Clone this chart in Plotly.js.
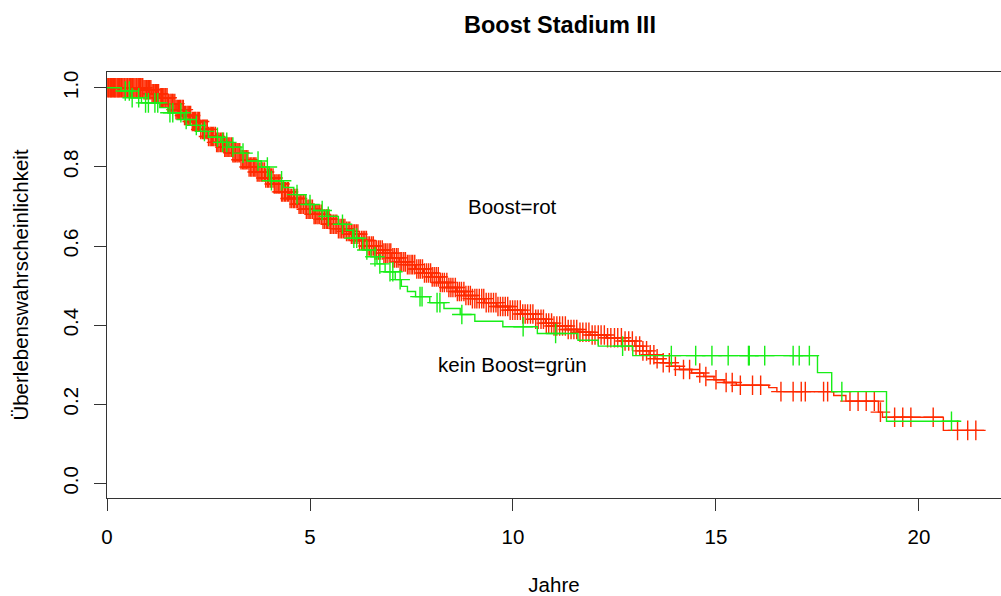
<!DOCTYPE html>
<html>
<head>
<meta charset="utf-8">
<script src="https://cdn.plot.ly/plotly-3.0.1.min.js"></script>
<style>html,body{margin:0;padding:0;background:#fff;}#chart{width:1001px;height:596px;}</style>
</head>
<body>
<div id="chart"></div>
<script>
// Kaplan-Meier steps: "Boost" (red)
const redTimes = [0, 0.9, 1.1, 1.3, 1.5, 1.7, 1.9, 2.1, 2.3, 2.5, 2.7, 2.9, 3.1, 3.3, 3.5, 3.7, 3.9, 4.1, 4.3, 4.5, 4.7, 4.9, 5.1, 5.3, 5.5, 5.7, 5.9, 6.0, 6.2, 6.4, 6.6, 6.8, 7.0, 7.2, 7.4, 7.6, 7.8, 8.0, 8.2, 8.4, 8.6, 8.8, 9.0, 9.3, 9.6, 9.9, 10.2, 10.5, 10.8, 11.0, 11.3, 11.6, 11.9, 12.3, 12.7, 13.0, 13.2, 13.35, 13.5, 13.7, 13.9, 14.1, 14.4, 14.7, 14.95, 15.2, 15.5, 16.3, 16.5, 17.9, 18.2, 19.0, 19.1, 20.6];
const redSurv  = [1.0, 0.995, 0.985, 0.975, 0.96, 0.945, 0.93, 0.915, 0.895, 0.877, 0.862, 0.85, 0.836, 0.818, 0.8, 0.787, 0.772, 0.757, 0.737, 0.72, 0.706, 0.693, 0.68, 0.668, 0.655, 0.644, 0.637, 0.63, 0.614, 0.6, 0.59, 0.582, 0.57, 0.56, 0.553, 0.542, 0.532, 0.522, 0.508, 0.495, 0.485, 0.475, 0.467, 0.457, 0.447, 0.438, 0.428, 0.415, 0.405, 0.398, 0.389, 0.382, 0.375, 0.368, 0.36, 0.347, 0.335, 0.325, 0.315, 0.305, 0.296, 0.288, 0.279, 0.27, 0.262, 0.255, 0.248, 0.242, 0.232, 0.222, 0.208, 0.18, 0.167, 0.134];
const redEnd = 21.6;
const redCensor = [0.02, 0.04, 0.07, 0.09, 0.11, 0.13, 0.16, 0.18, 0.2, 0.22, 0.25, 0.27, 0.29, 0.31, 0.34, 0.36, 0.39, 0.42, 0.44, 0.47, 0.5, 0.52, 0.56, 0.58, 0.61, 0.63, 0.66, 0.69, 0.72, 0.74, 0.77, 0.8, 0.83, 0.86, 0.88, 0.91, 0.94, 0.97, 0.99,
  1.02, 1.05, 1.08, 1.11, 1.14, 1.16, 1.19, 1.22, 1.25, 1.27, 1.31, 1.34, 1.37, 1.4, 1.43, 1.45, 1.48, 1.51, 1.55, 1.58, 1.61, 1.63, 1.67, 1.7, 1.73, 1.76, 1.79, 1.81, 1.85, 1.88, 1.91, 1.93, 1.97,
  2.0, 2.03, 2.06, 2.1, 2.13, 2.16, 2.18, 2.22, 2.25, 2.28, 2.31, 2.35, 2.38, 2.41, 2.44, 2.47, 2.5, 2.54, 2.57, 2.6, 2.63, 2.67, 2.7, 2.73, 2.76, 2.8, 2.83, 2.87, 2.9, 2.93, 2.96,
  3.0, 3.03, 3.07, 3.1, 3.13, 3.16, 3.2, 3.23, 3.27, 3.3, 3.34, 3.37, 3.4, 3.43, 3.47, 3.5, 3.54, 3.57, 3.61, 3.64, 3.67, 3.7, 3.74, 3.77, 3.81, 3.84, 3.88, 3.91, 3.95, 3.98,
  4.02, 4.05, 4.09, 4.12, 4.16, 4.19, 4.23, 4.26, 4.3, 4.33, 4.37, 4.4, 4.44, 4.47, 4.51, 4.55, 4.59, 4.62, 4.66, 4.69, 4.73, 4.76, 4.8, 4.84, 4.88, 4.91, 4.95, 4.98,
  5.02, 5.06, 5.1, 5.13, 5.17, 5.2, 5.24, 5.28, 5.32, 5.36, 5.4, 5.43, 5.47, 5.5, 5.54, 5.58, 5.62, 5.66, 5.7, 5.74, 5.78, 5.82, 5.86, 5.9, 5.94, 5.98,
  6.02, 6.06, 6.1, 6.14, 6.18, 6.22, 6.27, 6.31, 6.35, 6.39, 6.43, 6.47, 6.52, 6.56, 6.6, 6.64, 6.69, 6.73, 6.78, 6.82, 6.86, 6.9, 6.95, 6.99,
  7.04, 7.08, 7.13, 7.17, 7.22, 7.26, 7.31, 7.35, 7.4, 7.44, 7.49, 7.53, 7.58, 7.63, 7.68, 7.72, 7.77, 7.82, 7.87, 7.92, 7.97,
  8.01, 8.06, 8.11, 8.16, 8.21, 8.26, 8.31, 8.37, 8.42, 8.47, 8.52, 8.58, 8.63, 8.68, 8.73, 8.79, 8.84, 8.9, 8.95,
  9.0, 9.06, 9.11, 9.17, 9.23, 9.28, 9.34, 9.4, 9.46, 9.52, 9.58, 9.63, 9.69, 9.75, 9.81, 9.87, 9.93, 9.99,
  10.05, 10.11, 10.18, 10.24, 10.3, 10.36, 10.43, 10.49, 10.56, 10.62, 10.69, 10.75, 10.82, 10.88, 10.95,
  11.01, 11.08, 11.15, 11.22, 11.29, 11.36, 11.43, 11.5, 11.57, 11.65, 11.72, 11.8, 11.87, 11.95,
  12.02, 12.1, 12.17, 12.25, 12.33, 12.41, 12.5, 12.58, 12.67, 12.76, 12.85, 12.94, 13.03, 13.12, 13.2, 13.29, 13.38, 13.47,
  13.55, 13.7, 13.85, 14.0, 14.2, 14.35, 14.6, 14.75, 15.0, 15.25, 15.4, 15.6, 15.9, 16.1, 16.6, 16.9, 17.1, 17.2, 17.65, 17.75,
  18.3, 18.5, 18.7, 18.9, 19.05, 19.4, 19.6, 19.8, 20.35, 20.95, 21.2, 21.4];

// "kein Boost" (green)
const greenTimes = [0, 0.35, 0.6, 0.85, 1.3, 1.5, 1.9, 2.05, 2.3, 2.5, 2.8, 3.0, 3.3, 3.45, 3.8, 4.0, 4.35, 4.6, 4.9, 5.1, 5.4, 5.7, 5.9, 6.05, 6.3, 6.5, 6.65, 6.85, 7.1, 7.25, 7.4, 7.6, 7.95, 8.3, 8.7, 9.06, 9.75, 10.6, 11.6, 12.1, 12.95, 17.5, 17.85, 19.2];
const greenSurv  = [1.0, 0.992, 0.975, 0.962, 0.95, 0.937, 0.92, 0.905, 0.89, 0.875, 0.862, 0.85, 0.835, 0.815, 0.8, 0.765, 0.748, 0.73, 0.705, 0.69, 0.675, 0.655, 0.64, 0.62, 0.59, 0.573, 0.555, 0.535, 0.515, 0.498, 0.485, 0.472, 0.457, 0.442, 0.427, 0.41, 0.396, 0.379, 0.362, 0.347, 0.323, 0.28, 0.232, 0.157];
const greenEnd = 21.0;
const greenCensor = [0.45, 0.55, 0.62, 0.78, 0.95, 1.02, 1.18, 1.25, 1.55, 1.62, 1.82, 1.95, 2.2, 2.4, 2.72, 2.85, 2.95, 3.1, 3.35, 3.72, 3.95, 4.05, 4.3, 4.68, 5.0, 5.3, 5.45, 5.8, 6.08, 6.15, 6.4, 6.6, 6.72, 6.97, 7.04, 7.22, 7.71, 7.76, 8.13, 8.2, 8.74, 10.25, 11.05, 12.7, 13.9, 14.5, 14.9, 15.3, 15.8, 15.82, 16.2, 16.9, 17.05, 17.3, 18.1, 20.8];

const xTicks = [0, 5, 10, 15, 20];
const yTicks = [0, 0.2, 0.4, 0.6, 0.8, 1.0];
const yTickText = ["0.0", "0.2", "0.4", "0.6", "0.8", "1.0"];

const RED = '#ff2a00';
const GREEN = '#18ee18';

function survAt(times, surv, t) {
  let s = surv[0];
  for (let i = 0; i < times.length; i++) { if (times[i] <= t) s = surv[i]; else break; }
  return s;
}
function stepTrace(times, surv, end, color) {
  return { x: times.concat([end]), y: surv.concat([surv[surv.length - 1]]), type: 'scatter', mode: 'lines',
    line: { shape: 'hv', color: color, width: 1.4 }, hoverinfo: 'skip', showlegend: false };
}
function censorTrace(times, surv, cens, color) {
  return { x: cens, y: cens.map(t => survAt(times, surv, t)), type: 'scatter', mode: 'markers',
    marker: { symbol: 'cross-thin-open', size: 14, color: color, line: { color: color, width: 1.4 } },
    hoverinfo: 'skip', showlegend: false };
}

const data = [
  stepTrace(redTimes, redSurv, redEnd, RED),
  censorTrace(redTimes, redSurv, redCensor, RED),
  stepTrace(greenTimes, greenSurv, greenEnd, GREEN),
  censorTrace(greenTimes, greenSurv, greenCensor, GREEN)
];

const FONT = 'Liberation Sans, Arial, sans-serif';
const FS = 20.5;
const layout = {
  width: 1001, height: 596,
  margin: { l: 107, r: 0, t: 72, b: 98 },
  paper_bgcolor: '#fff', plot_bgcolor: '#fff',
  font: { family: FONT, size: FS, color: '#000' },
  title: { text: '<b>Boost Stadium III</b>', font: { family: FONT, size: 23.5, color: '#000' },
    x: 0.5594, xref: 'container', xanchor: 'center', y: 0.958, yref: 'container', yanchor: 'middle' },
  xaxis: { range: [0, 22.02], tickvals: xTicks, ticks: 'outside', ticklen: 12, tickwidth: 1, tickcolor: '#333',
    showline: true, mirror: true, linecolor: '#333', linewidth: 1, showgrid: false, zeroline: false,
    tickfont: { family: FONT, size: FS }, ticklabelstandoff: 8,
    title: { text: 'Jahre', font: { family: FONT, size: FS }, standoff: 33 } },
  yaxis: { range: [-0.037, 1.04], tickvals: yTicks, ticktext: yTickText, tickangle: -90, ticks: 'outside', ticklen: 12,
    tickwidth: 1, tickcolor: '#333', showline: true, mirror: false, linecolor: '#333', linewidth: 1,
    showgrid: false, zeroline: false, tickfont: { family: FONT, size: FS }, ticklabelstandoff: 8,
    title: { text: 'Überlebenswahrscheinlichkeit', font: { family: FONT, size: FS }, standoff: 24 } },
  annotations: [
    { x: 10, y: 0.7, xref: 'x', yref: 'y', text: 'Boost=rot', showarrow: false, font: { family: FONT, size: FS, color: '#000' } },
    { x: 10, y: 0.3, xref: 'x', yref: 'y', text: 'kein Boost=grün', showarrow: false, font: { family: FONT, size: FS, color: '#000' } }
  ]
};

Plotly.newPlot('chart', data, layout, { displayModeBar: false, staticPlot: true });
</script>
</body>
</html>
